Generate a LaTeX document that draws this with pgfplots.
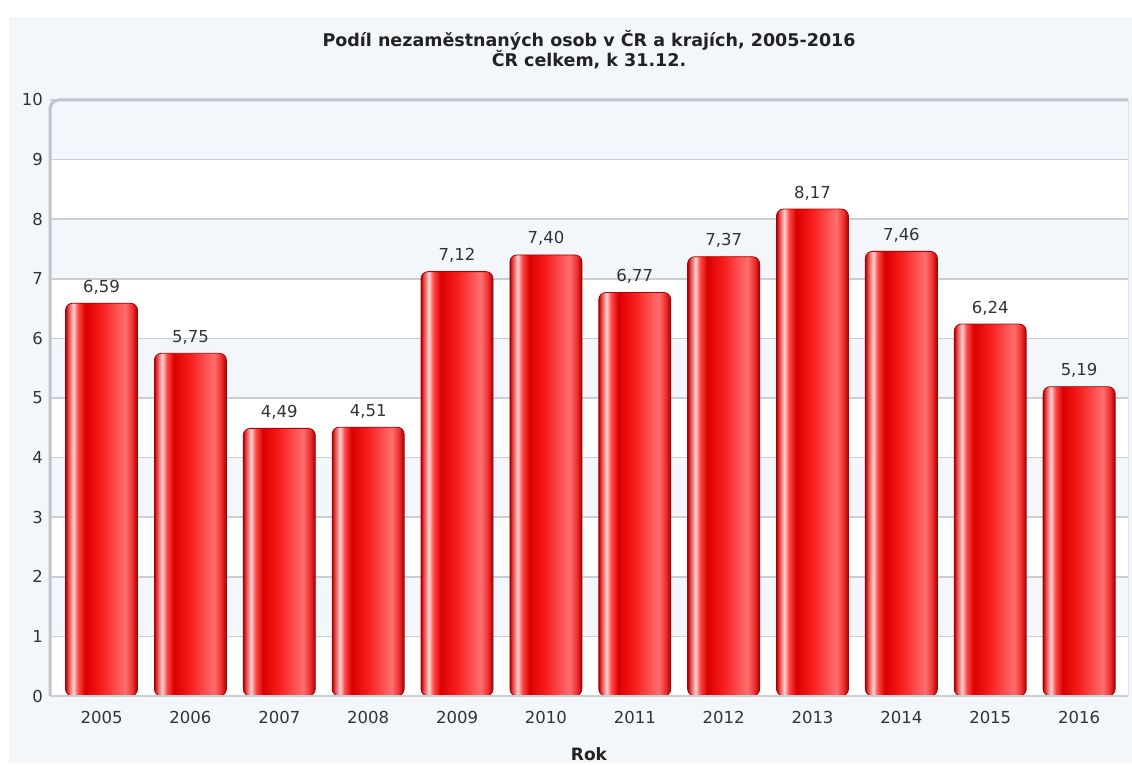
\documentclass[border=0pt]{standalone}
\usepackage{fontspec}
\setmainfont{DejaVu Sans}
\usepackage{pgfplots}
\pgfplotsset{compat=1.18}

\definecolor{panel}{HTML}{F3F7FB}
\definecolor{gridc}{HTML}{C8CED4}
\definecolor{framec}{HTML}{BFC5CB}
\definecolor{txt}{HTML}{333333}
\definecolor{ttl}{HTML}{222222}
% glossy red bar colours, left to right
\definecolor{bE}{HTML}{A80000}
\definecolor{bA}{HTML}{E03A3A}
\definecolor{bHi}{HTML}{FFD2D2}
\definecolor{bB}{HTML}{FF4A4A}
\definecolor{bDk}{HTML}{DA0000}
\definecolor{bMid}{HTML}{F81E1E}
\definecolor{bLt}{HTML}{FF6E6E}
\definecolor{bC}{HTML}{EE2E2E}
\definecolor{bE2}{HTML}{A00000}
\definecolor{bLine}{HTML}{B00000}
\pgfdeclarehorizontalshading{glossbar}{100bp}{%
  color(0bp)=(bE); color(25bp)=(bE); color(26.5bp)=(bA);
  color(30.5bp)=(bHi); color(33.5bp)=(bB); color(38.5bp)=(bDk);
  color(50bp)=(bMid); color(66.5bp)=(bLt); color(71.5bp)=(bC);
  color(75bp)=(bE2); color(100bp)=(bE2)}

\newcommand\tickfont{\fontsize{16.5bp}{20bp}\selectfont}

\begin{document}
\begin{tikzpicture}
% page and panel
\fill[white] (0bp,0bp) rectangle (1132bp,763bp);
\fill[panel] (9bp,0bp) rectangle (1132bp,746bp);
% alternating white bands of the plot area (one band per unit, 59.6bp)
\foreach \k in {0,2,4,6,8}{
  \fill[white] (50bp,{67bp+\k*59.6bp}) rectangle (1128bp,{67bp+(\k+1)*59.6bp});
}

\begin{axis}[
  at={(50bp,67bp)}, anchor=south west,
  scale only axis, width=1078bp, height=596bp,
  xmin=-0.58, xmax=11.55, ymin=0, ymax=10,
  clip=false,
  axis line style={draw=none},
  tick style={draw=none},
  ytick={0,1,...,10},
  xtick={0,1,...,11},
  xticklabels={2005,2006,2007,2008,2009,2010,2011,2012,2013,2014,2015,2016},
  ymajorgrids,
  grid style={gridc, line width=1.5bp},
  /pgf/number format/assume math mode=true,
  ticklabel style={font=\tickfont, text=txt, inner sep=0pt},
  xticklabel style={anchor=base, yshift=-28bp},
  yticklabel style={anchor=east, xshift=-7bp},
  glossy/.style={ybar, bar width=0.81, bar shift=0pt, draw=bLine, line width=0.8bp,
     shade, shading=glossbar, rounded corners=7bp,
     nodes near coords={\pgfmathprintnumber[fixed,fixed zerofill,precision=2,use comma,assume math mode=true]{\pgfplotspointmeta}},
     every node near coord/.append style={font=\tickfont, text=txt,
        inner sep=0pt, yshift=8.7bp, draw=none, shade=false}},
]
\addplot[glossy] coordinates {(0,6.59)};
\addplot[glossy] coordinates {(1,5.75)};
\addplot[glossy] coordinates {(2,4.49)};
\addplot[glossy] coordinates {(3,4.51)};
\addplot[glossy] coordinates {(4,7.12)};
\addplot[glossy] coordinates {(5,7.40)};
\addplot[glossy] coordinates {(6,6.77)};
\addplot[glossy] coordinates {(7,7.37)};
\addplot[glossy] coordinates {(8,8.17)};
\addplot[glossy] coordinates {(9,7.46)};
\addplot[glossy] coordinates {(10,6.24)};
\addplot[glossy] coordinates {(11,5.19)};
\end{axis}

% frame: heavy left and top edges, light right edge, base line
\draw[gridc!60, line width=1bp] (1128bp,663bp) -- (1128bp,67bp);
\draw[gridc, line width=1.5bp] (50bp,67bp) -- (1128bp,67bp);
\draw[framec, line width=3bp, rounded corners=9bp]
  (50bp,67bp) |- (1128bp,663bp);

\node[anchor=base, font=\bfseries\fontsize{17.5bp}{21bp}\selectfont, text=ttl]
  at (589bp,716.5bp) {Podíl nezaměstnaných osob v ČR a krajích, 2005-2016};
\node[anchor=base, font=\bfseries\fontsize{17.5bp}{21bp}\selectfont, text=ttl]
  at (589bp,696.5bp) {ČR celkem, k 31.12.};
\node[anchor=base, font=\bfseries\fontsize{17bp}{20bp}\selectfont, text=ttl]
  at (589bp,2bp) {Rok};
\end{tikzpicture}
\end{document}
